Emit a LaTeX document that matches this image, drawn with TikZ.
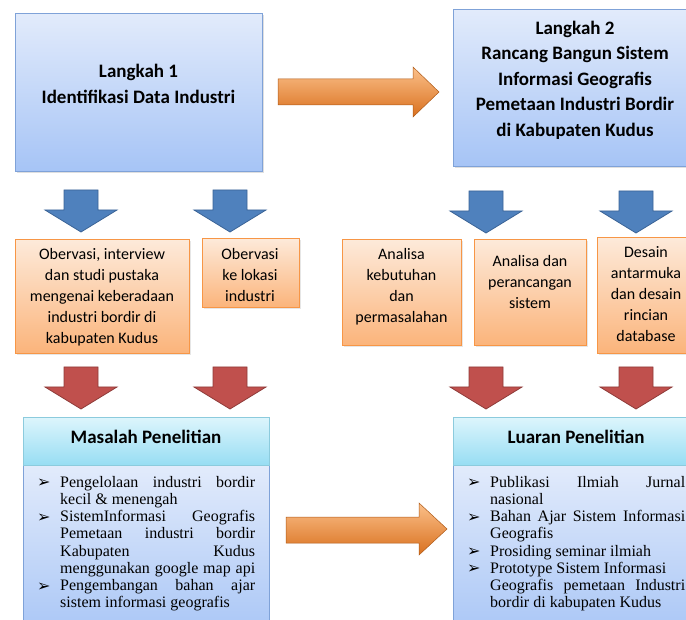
\documentclass[tikz,border=0pt]{standalone}
\usepackage{fontspec}
\setmainfont{Liberation Serif}
\newfontfamily\calfont{Carlito}
\newfontfamily\symfont{DejaVu Sans}
\usepackage{tikz}
\usetikzlibrary{positioning}
\usetikzlibrary{shadows}

\definecolor{lkborder}{HTML}{7FA2D8}
\definecolor{lktop}{HTML}{E2EBFB}
\definecolor{lkbot}{HTML}{A6C4F6}
\definecolor{ogborder}{HTML}{F79646}
\definecolor{ogtop}{HTML}{FDEADA}
\definecolor{ogbot}{HTML}{FBB47B}
\definecolor{hdborder}{HTML}{8CCBDD}
\definecolor{hdtop}{HTML}{DDF5FC}
\definecolor{hdbot}{HTML}{97DDF3}
\definecolor{bluearr}{HTML}{4F81BD}
\definecolor{bluedark}{HTML}{3A6396}
\definecolor{redarr}{HTML}{C0504D}
\definecolor{reddark}{HTML}{8E3B39}
\definecolor{orgtop}{HTML}{FBC08A}
\definecolor{orgmid}{HTML}{F79646}
\definecolor{orgbot}{HTML}{D9701E}

\newlength\lstwd
\setlength\lstwd{218pt}
\newcommand{\bul}{{\symfont\fontsize{16}{16}\selectfont ➢}}
\newcommand{\itm}[1]{\hbox to \lstwd{\hbox to 23pt{\raise-0.5pt\hbox{\bul}\hss}#1}}
\newcommand{\cnt}[1]{\hbox to \lstwd{\hskip 23pt #1}}
\newcommand{\downblock}[3]{%
  \draw[#1] (#2-17,#3) -- (#2+17,#3) -- (#2+17,#3+20) -- (#2+36,#3+20)
    -- (#2,#3+42) -- (#2-36,#3+20) -- (#2-17,#3+20) -- cycle;}

\tikzset{
  stepbox/.style={draw=lkborder, top color=lktop, bottom color=lkbot,
    drop shadow={opacity=0.25, shadow xshift=1.5pt, shadow yshift=-1.5pt},
    anchor=north west, inner sep=0pt},
  taskbox/.style={draw=ogborder, top color=ogtop, bottom color=ogbot,
    drop shadow={opacity=0.2, shadow xshift=1.5pt, shadow yshift=-1.5pt},
    anchor=north west, inner sep=0pt},
  headbox/.style={draw=hdborder, top color=hdtop, bottom color=hdbot,
    anchor=north west, inner sep=0pt},
  bodybox/.style={draw=lkborder, top color=lktop, bottom color=lkbot,
    anchor=north west, inner sep=0pt},
  steptext/.style={font=\calfont\bfseries\fontsize{19}{25.5}\selectfont, align=center},
  tasktext/.style={font=\calfont\fontsize{16}{21}\selectfont, align=center},
  headtext/.style={font=\calfont\bfseries\fontsize{19}{22}\selectfont},
  listtext/.style={font=\fontsize{16}{17.2}\selectfont, align=left,
    inner sep=0pt, anchor=north west},
  bluedown/.style={fill=bluearr, draw=bluedark, line width=0.8pt},
  reddown/.style={fill=redarr, draw=reddark, line width=0.8pt},
  orgright/.style={top color=orgtop, middle color=orgmid, bottom color=orgbot,
    draw=orgbot!80!black, line width=0.5pt}
}

\begin{document}
\begin{tikzpicture}[x=1pt, y=-1pt]
  \useasboundingbox (0,0) rectangle (686,620);
  \clip (0,0) rectangle (686,620);

  % langkah
  \node[stepbox, minimum width=247pt, minimum height=158pt] (lk1) at (15,13) {};
  \node[stepbox, minimum width=244pt, minimum height=157pt] (lk2) at (453,9) {};
  \node[steptext] (lk1t) at (138.5,84) {Langkah 1\\Identifikasi Data Industri};
  \node[steptext] (lk2t) at (575,80) {Langkah 2\\Rancang Bangun Sistem\\Informasi Geografis\\Pemetaan Industri Bordir\\di Kabupaten Kudus};

  \draw[orgright] (278,79) -- (413,79) -- (413,67) -- (439,92) -- (413,117) -- (413,105) -- (278,105) -- cycle;

  \downblock{bluedown}{81}{190}
  \downblock{bluedown}{230}{190}
  \downblock{bluedown}{486}{191}
  \downblock{bluedown}{636}{191}

  % kegiatan
  \node[taskbox, minimum width=174pt, minimum height=114pt] (ta) at (15,239) {};
  \node[taskbox, minimum width=97pt, minimum height=69pt] (tb) at (202,238) {};
  \node[taskbox, minimum width=119pt, minimum height=106pt] (tc) at (342,239) {};
  \node[taskbox, minimum width=112pt, minimum height=106pt] (td) at (474,239) {};
  \node[taskbox, minimum width=98pt, minimum height=116pt] (te) at (597,237) {};
  \node[tasktext] (tat) at (102,297) {Obervasi, interview\\dan studi pustaka\\mengenai keberadaan\\industri bordir di\\kabupaten Kudus};
  \node[tasktext] (tbt) at (250,275) {Obervasi\\ke lokasi\\industri};
  \node[tasktext] (tct) at (401.5,287) {Analisa\\kebutuhan\\dan\\permasalahan};
  \node[tasktext] (tdt) at (530,282) {Analisa dan\\perancangan\\sistem};
  \node[tasktext] (tet) at (646,294) {Desain\\antarmuka\\dan desain\\rincian\\database};

  \downblock{reddown}{81}{367}
  \downblock{reddown}{230}{367}
  \downblock{reddown}{486}{367}
  \downblock{reddown}{636}{367}

  % masalah dan luaran
  \node[bodybox, minimum width=246pt, minimum height=180pt] (mb) at (23,465) {};
  \node[headbox, minimum width=246pt, minimum height=48pt] (mh) at (23,417) {};
  \node[headtext] (mht) at (146,437) {Masalah Penelitian};
  \node[listtext] (ml) at (37,476) {%
    \itm{Pengelolaan industri bordir}\\
    \cnt{kecil \& menengah\hfill}\\
    \itm{SistemInformasi Geografis}\\
    \cnt{Pemetaan industri bordir}\\
    \cnt{Kabupaten Kudus}\\
    \cnt{menggunakan google map api}\\
    \itm{Pengembangan bahan ajar}\\
    \cnt{sistem informasi geografis\hfill}};

  \node[bodybox, minimum width=246pt, minimum height=180pt] (lb) at (453,465) {};
  \node[headbox, minimum width=246pt, minimum height=48pt] (lh) at (453,417) {};
  \node[headtext] (lht) at (576,437) {Luaran Penelitian};
  \node[listtext] (ll) at (467,476) {%
    \itm{Publikasi Ilmiah Jurnal}\\
    \cnt{nasional\hfill}\\
    \itm{Bahan Ajar Sistem Informasi}\\
    \cnt{Geografis\hfill}\\
    \itm{Prosiding seminar ilmiah\hfill}\\
    \itm{Prototype Sistem Informasi\hfill}\\
    \cnt{Geografis pemetaan Industri}\\
    \cnt{bordir di kabupaten Kudus\hfill}};

  \draw[orgright] (286,517) -- (419,517) -- (419,503) -- (447,529) -- (419,555) -- (419,543) -- (286,543) -- cycle;
\end{tikzpicture}
\end{document}
